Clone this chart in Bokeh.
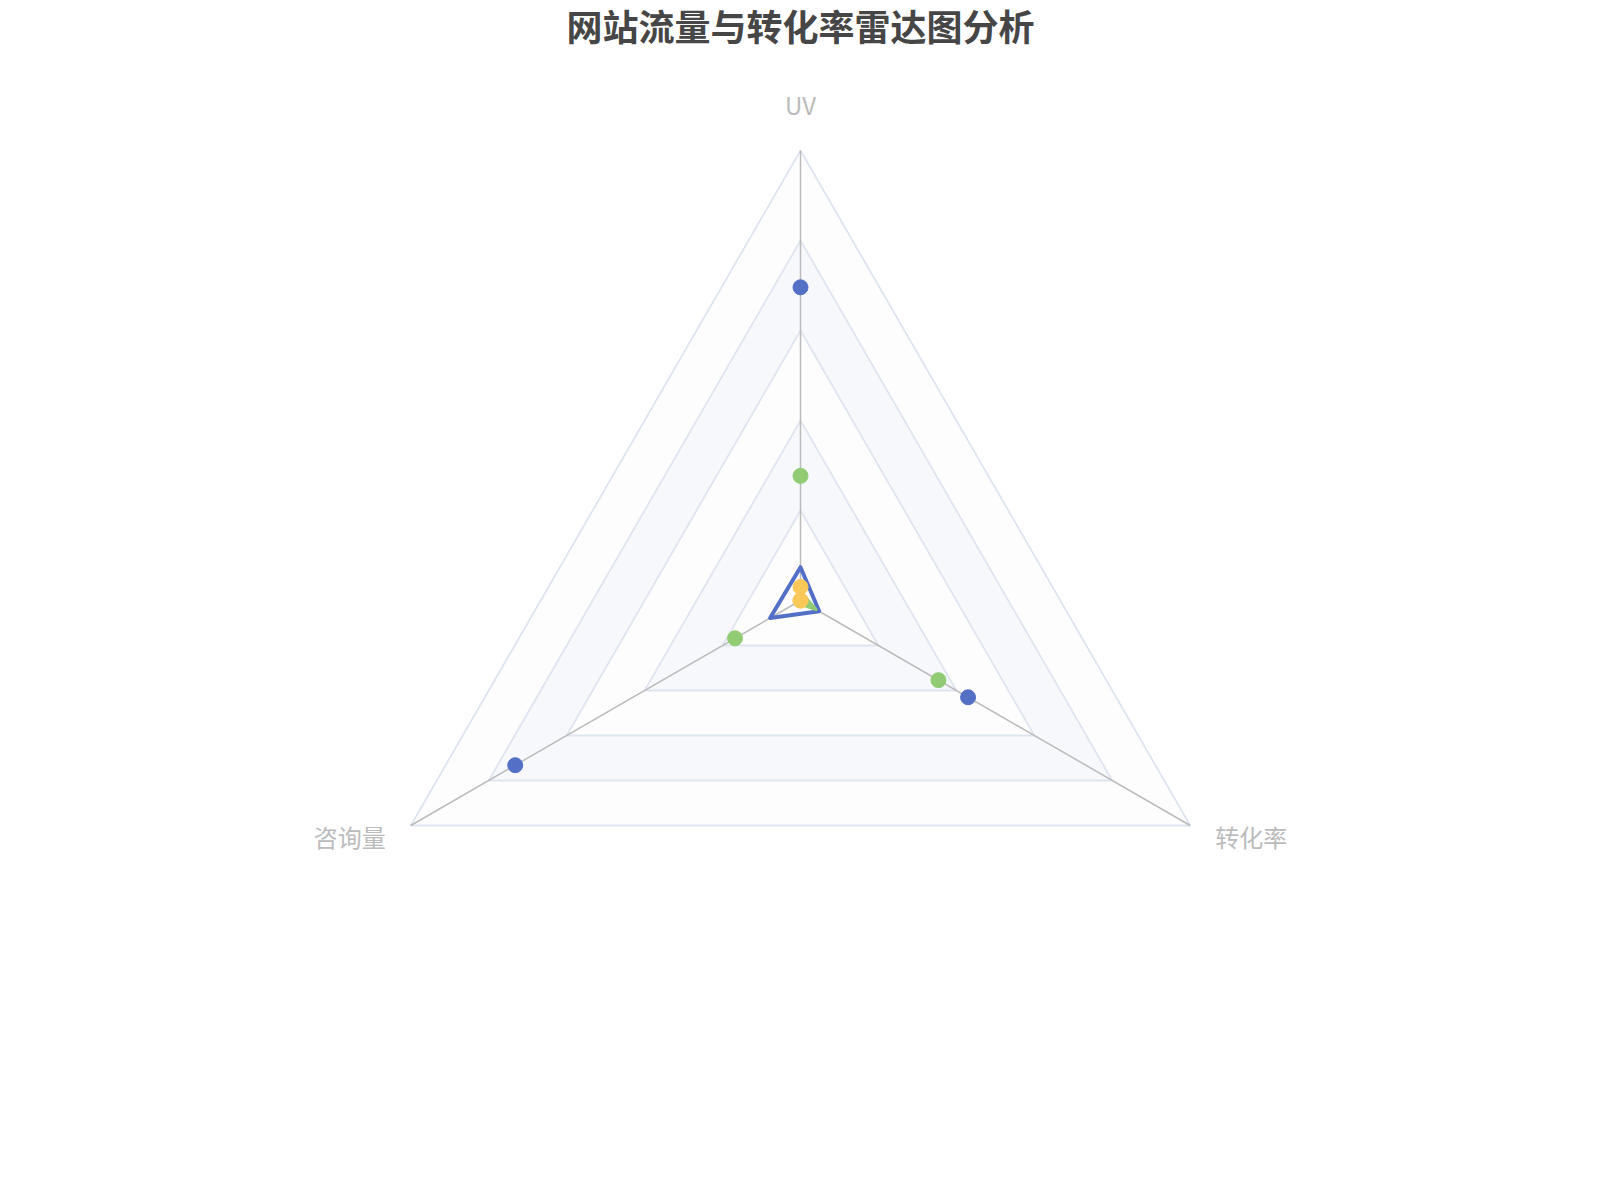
import numpy as np
from bokeh.plotting import figure
from bokeh.models import Range1d
from bokeh.core.properties import value
from bokeh.embed import file_html
from bokeh.resources import INLINE

# data
title = "网站流量与转化率雷达图分析"
indicators = ["UV", "咨询量", "转化率"]
max_value = 100
blue_points = [69.6, 73.2, 43.0]
green_points = [27.7, 16.8, 35.4]
yellow_points = [3.0, 0.0, 0.0]
blue_line = [7.4, 7.8, 4.8]
green_line = [2.0, 1.0, 4.0]

FONT = value("Noto Sans CJK SC")
RADIUS = 450
SPLITS = 5
angles = np.radians(90 + 120 * np.arange(len(indicators)))


def to_xy(vals):
    r = np.asarray(vals, dtype=float) / max_value * RADIUS
    return list(r * np.cos(angles)), list(r * np.sin(angles))


p = figure(width=1584, height=1184, x_range=Range1d(-800, 784), y_range=Range1d(-584, 600),
           output_backend="svg", toolbar_location=None, min_border=0)
p.axis.visible = False
p.grid.visible = False
p.outline_line_color = None
p.background_fill_color = "white"

# split areas, outer to inner
area_colors = ["#fdfdfd", "#f6f8fc"]
for i in range(SPLITS, 0, -1):
    xs, ys = to_xy([max_value * i / SPLITS] * len(indicators))
    p.patch(xs, ys, fill_color=area_colors[(i - 1) % 2], line_color=None)

# split lines
for i in range(1, SPLITS + 1):
    xs, ys = to_xy([max_value * i / SPLITS] * len(indicators))
    p.patch(xs, ys, fill_color=None, line_color="#dfe5f0", line_width=1.8)

# axis lines
vx, vy = to_xy([max_value] * len(indicators))
p.multi_line([[0, x] for x in vx], [[0, y] for y in vy], line_color="#bbbbbb", line_width=1.5)

# axis names
for name, x, y in zip(indicators, vx, vy):
    if abs(x) < 1:
        align, lx, ly = "center", x, y + 46
    elif x < 0:
        align, lx, ly = "right", x - 25, y - 11
    else:
        align, lx, ly = "left", x + 25, y - 11
    p.text(x=[lx], y=[ly], text=[name], text_font=FONT, text_font_size="24px",
           text_color="#bbbbbb", text_align=align, text_baseline="middle")

# series lines
bx, by = to_xy(blue_line)
p.patch(bx, by, fill_color=None, line_color="#5470c6", line_width=4, line_join="round")
gx, gy = to_xy(green_line)
p.patch(gx, gy, fill_color="#91cc75", line_color="#91cc75", line_width=3, line_join="round")

# series points
for vals, color in [(blue_points, "#5470c6"), (green_points, "#91cc75"), (yellow_points, "#fac858")]:
    xs, ys = to_xy(vals)
    p.scatter(xs, ys, size=15, fill_color=color, line_color=color)

# title
p.text(x=[0], y=[576], text=[title], text_font=FONT, text_font_size="36px",
       text_font_style="bold", text_color="#464646", text_align="center", text_baseline="middle")

open("out.html", "w").write(file_html(p, INLINE))
